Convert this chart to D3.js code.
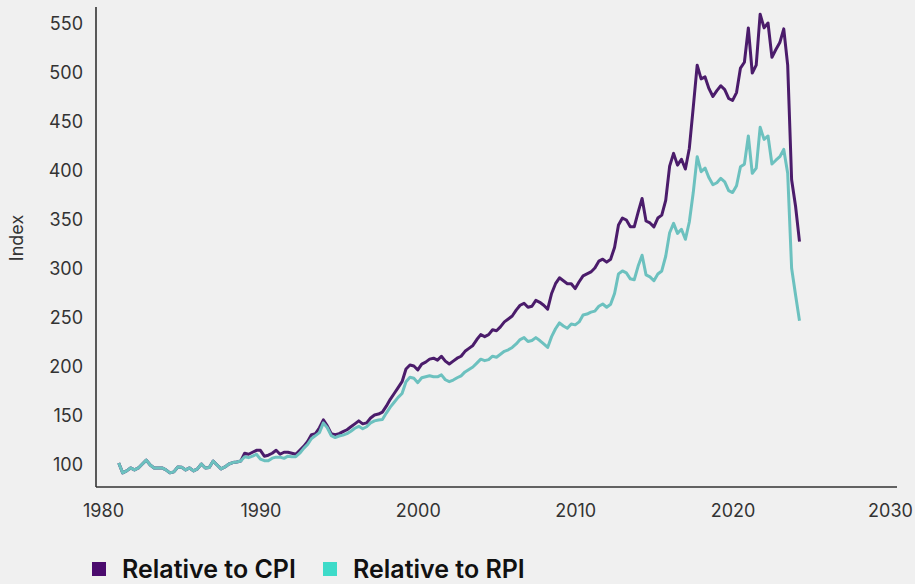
<!DOCTYPE html>
<html>
<head>
<meta charset="utf-8">
<script src="https://cdn.jsdelivr.net/npm/d3@7"></script>
<style>
  html, body { margin: 0; padding: 0; background: #f0f0f0; }
  svg { display: block; }
</style>
</head>
<body>
<svg id="chart" width="915" height="584"></svg>
<script>
// ---- Data (quarterly, 1981 Q1 .. 2024 Q2) ----
const startYear = 1981;
const seriesNames = ["Relative to CPI", "Relative to RPI"];
const xTicks = [1980, 1990, 2000, 2010, 2020, 2030];
const yTicks = [100, 150, 200, 250, 300, 350, 400, 450, 500, 550];

// 1981-1988 (both series identical)
const early = [102, 92, 94, 97, 95, 97, 101, 105, 100, 97, 97, 97, 95, 92, 93, 98,
               97.6, 95, 97, 94, 96, 101, 97, 97.5, 104, 100, 96, 98, 101, 102.5, 103, 104];

const cpiLate = [
  112, 111, 113, 115,   // 1989
  115, 109, 110, 112,   // 1990
  115, 111, 113, 113,   // 1991
  112, 111, 115, 119,   // 1992
  124, 131, 132, 138,   // 1993
  146, 140, 132, 131,   // 1994
  132, 134, 136, 139,   // 1995
  142, 145, 142, 143,   // 1996
  148, 151, 152, 154,   // 1997
  160, 167, 173, 179,   // 1998
  185, 198, 202, 201,   // 1999
  197, 203, 205, 208,   // 2000
  209, 207, 211, 206,   // 2001
  203, 206, 209, 211,   // 2002
  216, 219, 222, 228,   // 2003
  233, 231, 233, 238,   // 2004
  237, 241, 246, 249,   // 2005
  252, 258, 263, 265,   // 2006
  261, 262, 268, 266,   // 2007
  263, 259, 275, 285,   // 2008
  291, 288, 285, 285,   // 2009
  280, 287, 293, 295,   // 2010
  297, 301, 308, 310,   // 2011
  307, 310, 322, 345,   // 2012
  352, 350, 343, 343,   // 2013
  358, 372, 349, 347,   // 2014
  343, 352, 355, 370,   // 2015
  405, 418, 406, 412,   // 2016
  402, 423, 465, 508,   // 2017
  494, 496, 484, 476,   // 2018
  482, 487, 483, 474,   // 2019
  472, 480, 505, 511,   // 2020
  546, 500, 508, 560,   // 2021
  546, 551, 516, 524,   // 2022
  531, 545, 508, 391,   // 2023
  364, 328              // 2024
];

const rpiLate = [
  108.5, 107.5, 109, 111,   // 1989
  106, 104.4, 104.4, 107,   // 1990
  108, 108, 106.8, 109,     // 1991
  108.5, 108.5, 112, 117,   // 1992
  121, 127, 130, 133,       // 1993
  143, 138, 130, 128,       // 1994
  129.6, 130.5, 132, 134.5, // 1995
  137.5, 139.5, 137, 139,   // 1996
  143, 145, 146, 146.5,     // 1997
  153, 159, 164, 169,       // 1998
  173, 185, 189.5, 188.5,   // 1999
  184, 189, 190, 191,       // 2000
  190, 190, 192, 187,       // 2001
  185, 186.7, 189, 191,     // 2002
  195, 197.5, 200, 204,     // 2003
  208, 206.5, 207.5, 211,   // 2004
  210, 213, 216, 217.5,     // 2005
  220, 223.5, 228, 230,     // 2006
  226, 227, 230, 227,       // 2007
  223.5, 220, 231, 239,     // 2008
  245, 241.8, 239.5, 243.9, // 2009
  243, 246, 253, 254,       // 2010
  256, 257, 262, 264.3,     // 2011
  261, 264, 275, 295,       // 2012
  298, 296, 290, 289,       // 2013
  303, 314, 294, 292,       // 2014
  288, 294.9, 298, 313,     // 2015
  337, 346.6, 336.4, 340.5, // 2016
  330.3, 348, 378, 414.6,   // 2017
  399.3, 403, 393, 386,     // 2018
  388, 392.5, 389, 380,     // 2019
  378, 385, 404.4, 407,     // 2020
  435.7, 397.6, 403, 444.6, // 2021
  432.3, 435.7, 407.1, 411, // 2022
  414.6, 422, 397.6, 300.7, // 2023
  273.5, 247.2              // 2024
];

const cpiValues = early.concat(cpiLate);
const rpiValues = early.concat(rpiLate);
const dates = cpiValues.map((_, i) => startYear + i / 4);

const colors = { cpiLine: "#4b1c6b", rpiLine: "#6cc1bf", cpiKey: "#4b0b6e", rpiKey: "#3ddbc9" };

// ---- Layout ----
const svg = d3.select("#chart");
const axisX0 = 96, axisX1 = 897, axisYTop = 7, axisYBottom = 487;

const x = d3.scaleLinear().domain([1980, 2030]).range([103, 890]);
const y = d3.scaleLinear().domain([100, 550]).range([465, 24]);

// axis lines
svg.append("line")
  .attr("x1", axisX0).attr("x2", axisX0)
  .attr("y1", axisYTop).attr("y2", axisYBottom)
  .attr("stroke", "#333").attr("stroke-width", 1.6);
svg.append("line")
  .attr("x1", axisX0).attr("x2", axisX1)
  .attr("y1", axisYBottom).attr("y2", axisYBottom)
  .attr("stroke", "#333").attr("stroke-width", 1.6);

const tickFont = "Inter, 'Open Sans', sans-serif";

// y tick labels
const yAxis = d3.axisLeft(y).tickValues(yTicks).tickSize(0).tickPadding(13).tickFormat(d3.format("d"));
const gy = svg.append("g").attr("transform", `translate(${axisX0},0)`).call(yAxis);
gy.select(".domain").remove();
gy.selectAll("text").attr("font-family", tickFont).attr("font-size", 18).attr("fill", "#333");

// x tick labels
const xAxis = d3.axisBottom(x).tickValues(xTicks).tickSize(0).tickPadding(17).tickFormat(d3.format("d"));
const gx = svg.append("g").attr("transform", `translate(0,${axisYBottom})`).call(xAxis);
gx.select(".domain").remove();
gx.selectAll("text").attr("font-family", tickFont).attr("font-size", 18).attr("fill", "#333");

// y axis title
svg.append("text")
  .attr("transform", `translate(23,238) rotate(-90)`)
  .attr("text-anchor", "middle")
  .attr("font-family", tickFont).attr("font-size", 18).attr("fill", "#333")
  .text("Index");

// lines (CPI underneath, RPI on top, as in the reference)
const line = d3.line().x((d, i) => x(dates[i])).y(d => y(d)).curve(d3.curveLinear);

svg.append("path").datum(cpiValues)
  .attr("d", line).attr("fill", "none")
  .attr("stroke", colors.cpiLine).attr("stroke-width", 3).attr("stroke-linejoin", "round");
svg.append("path").datum(rpiValues)
  .attr("d", line).attr("fill", "none")
  .attr("stroke", colors.rpiLine).attr("stroke-width", 3).attr("stroke-linejoin", "round");

// legend
const legend = [
  { name: seriesNames[0], color: colors.cpiKey, x: 92 },
  { name: seriesNames[1], color: colors.rpiKey, x: 323 }
];
const lg = svg.append("g");
legend.forEach(l => {
  lg.append("rect").attr("x", l.x).attr("y", 562).attr("width", 14).attr("height", 14).attr("fill", l.color);
  lg.append("text").attr("x", l.x + 30).attr("y", 578)
    .attr("font-family", tickFont).attr("font-size", 25).attr("font-weight", 600).attr("fill", "#111")
    .text(l.name);
});
</script>
</body>
</html>
